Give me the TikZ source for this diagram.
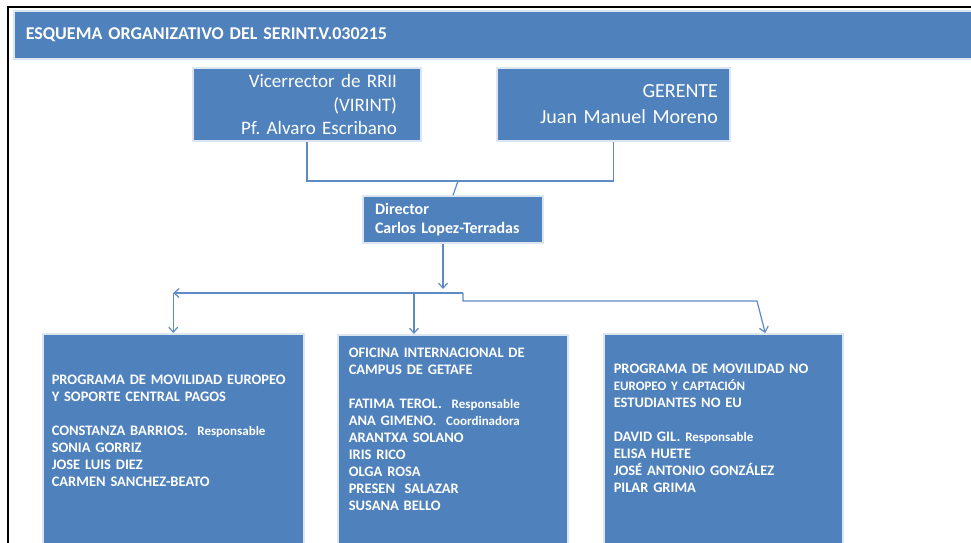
\documentclass[tikz,border=0pt]{standalone}
\usepackage{fontspec}
\setmainfont{Carlito}
\usepackage{tikz}
\usetikzlibrary{arrows.meta}

\definecolor{officeblue}{HTML}{4F81BD}
\definecolor{paleedge}{HTML}{DCE6F2}
\definecolor{linkblue}{HTML}{5E8BC4}
\newcommand{\lowtxt}[1]{{\fontsize{13}{17}\selectfont #1}}
\frenchspacing

\begin{document}
\begin{tikzpicture}[
    x=1pt, y=-1pt,
    banner/.style={draw=paleedge, line width=1.5pt, fill=officeblue, text=white, anchor=north west, minimum height=48, inner xsep=12pt, text width=936, align=left, font=\bfseries\fontsize{18}{20}\selectfont},
    headbox/.style={draw=paleedge, line width=1.5pt, fill=officeblue, text=white, inner sep=0pt},
    unitbox/.style={draw=paleedge, line width=1.5pt, fill=officeblue, text=white, anchor=north west, inner ysep=0pt, align=left, font=\bfseries\fontsize{14.5}{17}\selectfont},
    link/.style={draw=linkblue, line width=1.2pt},
    arrow/.style={link, -{Straight Barb[length=5pt, width=9pt]}}
]
\clip (0,0) rectangle (971,542);
\fill[white] (0,0) rectangle (971,542);
\draw[line width=2pt] (8,545) -- (8,7) -- (975,7);

\node[banner] (head) at (13,10) {ESQUEMA ORGANIZATIVO DEL SERINT.V.030215};

\node[headbox, minimum width=228, minimum height=73, text width=180, align=right, font=\fontsize{19}{23.5}\selectfont] (vice) at (307,104.5) {Vicerrector de RRII\\(VIRINT)\\Pf. Alvaro Escribano};
\node[headbox, minimum width=233, minimum height=73, text width=209, align=right, font=\fontsize{20}{26}\selectfont] (ger) at (613.5,104.5) {GERENTE\\Juan Manuel Moreno};
\node[headbox, minimum width=180, minimum height=47, text width=156, align=left, font=\bfseries\fontsize{16}{19}\selectfont] (dir) at (453,219.5) {Director\\Carlos Lopez-Terradas};

\node[unitbox, text width=243, inner xsep=9pt, text height=50.5, text depth=170] (prog1) at (42,333) {PROGRAMA DE MOVILIDAD EUROPEO\\Y SOPORTE CENTRAL PAGOS\\[17pt]CONSTANZA BARRIOS.~ \lowtxt{Responsable}\\SONIA GORRIZ\\JOSE LUIS DIEZ\\CARMEN SANCHEZ-BEATO};
\node[unitbox, text width=208, inner xsep=11pt, text height=22.5, text depth=195] (ofi) at (337,334) {OFICINA INTERNACIONAL DE\\CAMPUS DE GETAFE\\[17pt]FATIMA TEROL.~ \lowtxt{Responsable}\\ANA GIMENO.~ \lowtxt{Coordinadora}\\ARANTXA SOLANO\\IRIS RICO\\OLGA ROSA\\PRESEN~ SALAZAR\\SUSANA BELLO};
\node[unitbox, text width=219, inner xsep=10pt, text height=39.5, text depth=180] (prog2) at (603,333) {PROGRAMA DE MOVILIDAD NO\\\lowtxt{EUROPEO Y CAPTACIÓN}\\ESTUDIANTES NO EU\\[17pt]DAVID GIL. \lowtxt{Responsable}\\ELISA HUETE\\JOSÉ ANTONIO GONZÁLEZ\\PILAR GRIMA};

% upper connectors
\coordinate (join) at (458,181);
\draw[link] (vice.south) -- (vice.south |- join) -- (ger.south |- join) -- (ger.south);
\draw[link] (join) -- (dir.north);

% lower connectors
\coordinate (split) at (443,293);
\coordinate (step) at (463,293);
\coordinate (mjoin) at (414,293);
\coordinate (rbend) at (757,301);
\coordinate (lcorner) at (prog1.north |- split);
\draw[arrow] ([xshift=-10]dir.south) -- ([yshift=4]split);
\draw[arrow] (step) -- (lcorner);
\draw[arrow] (lcorner) -- (prog1.north);
\draw[arrow] (mjoin) -- (mjoin |- ofi.north);
\draw[arrow] (step) -- ++(0,8) -- (rbend) -- ([xshift=42]prog2.north);
\end{tikzpicture}
\end{document}
